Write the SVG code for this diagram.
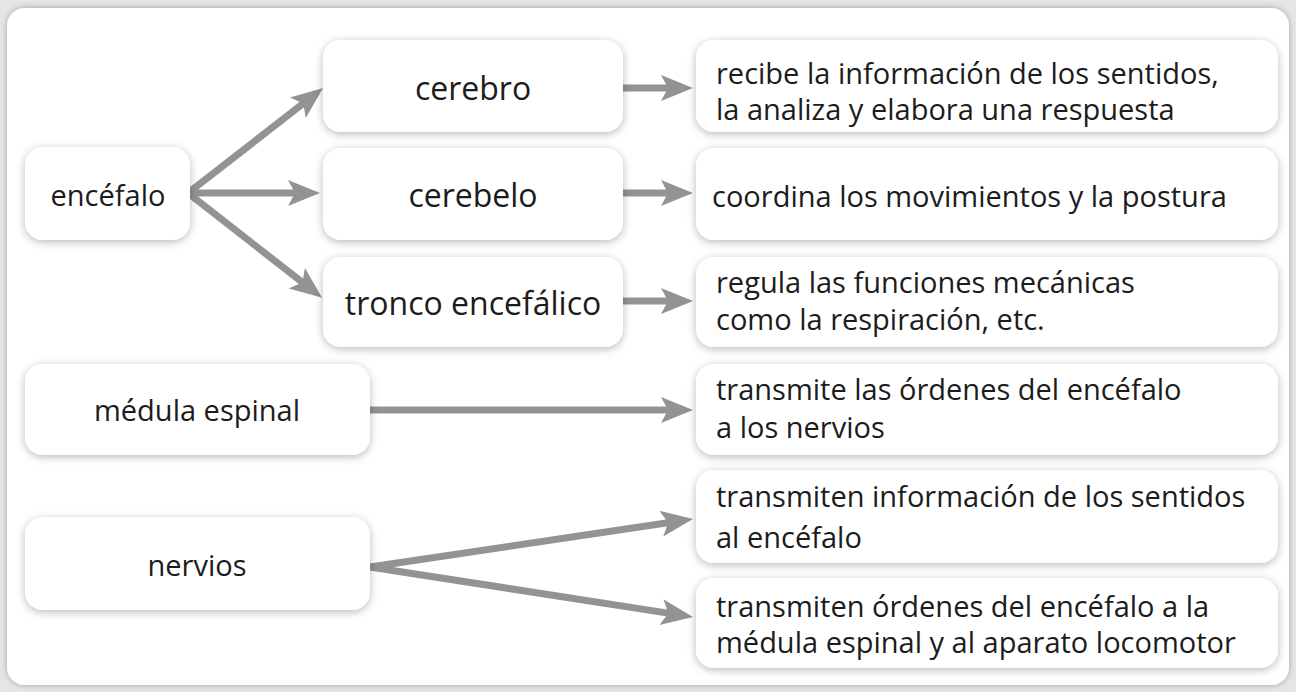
<svg xmlns="http://www.w3.org/2000/svg" width="1296" height="692" viewBox="0 0 1296 692">
<defs>
<filter id="sh" x="-20%" y="-30%" width="140%" height="160%">
<feDropShadow dx="0" dy="2" stdDeviation="4" flood-color="#000" flood-opacity="0.28"/>
</filter>
<filter id="psh" x="-5%" y="-5%" width="110%" height="110%">
<feDropShadow dx="0" dy="0" stdDeviation="3" flood-color="#000" flood-opacity="0.3"/>
</filter>
<marker id="ah" viewBox="0 0 32 26" refX="10" refY="13" markerWidth="32" markerHeight="26" markerUnits="userSpaceOnUse" orient="auto">
<path d="M0,0 L32,13 L0,26 L7,13 Z" fill="#939396"/>
</marker>
<style>
.box{fill:#fff;filter:url(#sh)}
.t{font-family:"Open Sans","Noto Sans","Liberation Sans",sans-serif;font-size:29px;fill:#1c1c1c}
.m{font-size:32px}
.c{text-anchor:middle}
.ln{stroke:#939396;stroke-width:7;fill:none;marker-end:url(#ah)}
</style>
</defs>
<rect x="0" y="0" width="1296" height="692" fill="#e6e6e6"/>
<rect x="7" y="8" width="1282" height="677" rx="18" fill="#fff" filter="url(#psh)"/>

<g id="connectors">
<line class="ln" x1="188" y1="193" x2="305.7" y2="101.6"/>
<line class="ln" x1="188" y1="193" x2="298" y2="193"/>
<line class="ln" x1="188" y1="193" x2="304.8" y2="284.3"/>
<line class="ln" x1="623" y1="88" x2="671" y2="88"/>
<line class="ln" x1="623" y1="193" x2="671" y2="193"/>
<line class="ln" x1="623" y1="301" x2="671" y2="301"/>
<line class="ln" x1="370" y1="410" x2="671" y2="410"/>
<line class="ln" x1="370" y1="567" x2="671.2" y2="522.2"/>
<line class="ln" x1="370" y1="567" x2="671.3" y2="613.6"/>
</g>

<g id="encefalo"><rect class="box" x="25" y="147" width="165" height="93" rx="18"/><text class="t c" x="108" y="206">encéfalo</text></g>
<g id="cerebro"><rect class="box" x="323" y="40" width="300" height="92" rx="18"/><text class="t m c" x="473" y="100">cerebro</text></g>
<g id="cerebelo"><rect class="box" x="323" y="148" width="300" height="92" rx="18"/><text class="t m c" x="473" y="207">cerebelo</text></g>
<g id="tronco"><rect class="box" x="323" y="257" width="300" height="90" rx="18"/><text class="t m c" x="473" y="315">tronco encefálico</text></g>
<g id="medula"><rect class="box" x="25" y="364" width="345" height="91" rx="18"/><text class="t c" x="197" y="421">médula espinal</text></g>
<g id="nervios"><rect class="box" x="25" y="517" width="345" height="93" rx="18"/><text class="t c" x="197" y="576">nervios</text></g>

<g id="r1"><rect class="box" x="696" y="40" width="582" height="92" rx="18"/><text class="t" x="716" y="84">recibe la información de los sentidos,</text><text class="t" x="716" y="120">la analiza y elabora una respuesta</text></g>
<g id="r2"><rect class="box" x="696" y="148" width="582" height="92" rx="18"/><text class="t" x="712" y="207">coordina los movimientos y la postura</text></g>
<g id="r3"><rect class="box" x="696" y="257" width="582" height="90" rx="18"/><text class="t" x="716" y="293">regula las funciones mecánicas</text><text class="t" x="716" y="330">como la respiración, etc.</text></g>
<g id="r4"><rect class="box" x="696" y="364" width="582" height="91" rx="18"/><text class="t" x="716" y="400">transmite las órdenes del encéfalo</text><text class="t" x="716" y="438">a los nervios</text></g>
<g id="r5"><rect class="box" x="696" y="470" width="582" height="93" rx="18"/><text class="t" x="716" y="507">transmiten información de los sentidos</text><text class="t" x="716" y="548">al encéfalo</text></g>
<g id="r6"><rect class="box" x="696" y="578" width="582" height="90" rx="18"/><text class="t" x="716" y="617">transmiten órdenes del encéfalo a la</text><text class="t" x="716" y="653">médula espinal y al aparato locomotor</text></g>
</svg>
